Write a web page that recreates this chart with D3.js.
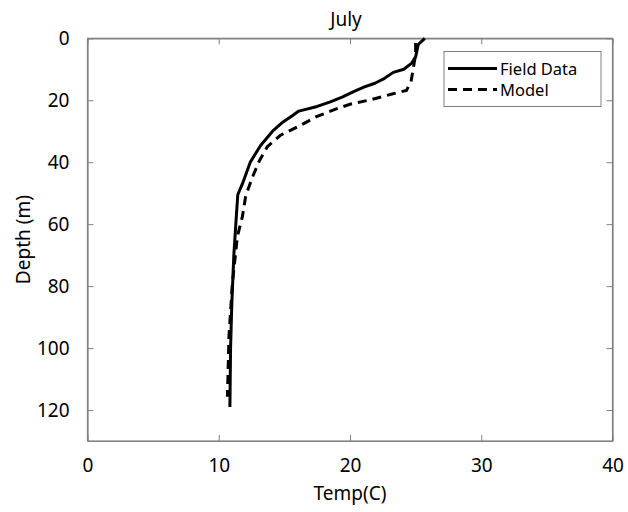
<!DOCTYPE html>
<html><head><meta charset="utf-8">
<script src="https://cdn.jsdelivr.net/npm/d3@7"></script>
<style>body{margin:0;background:#fff;} text{font-family:"Noto Sans","Open Sans",sans-serif;}</style>
</head><body>
<svg id="c" width="628" height="512"></svg>
<script>
const fieldDepth = [0, 2, 4, 6, 8, 10, 11, 13, 14.5, 15.7, 17, 19, 20.5, 22, 23.5, 25, 27, 30, 34.5, 40, 47, 50.5, 60, 70, 85, 100, 119];
const fieldTemp  = [25.7, 25.2, 25.1, 25.0, 24.7, 24.1, 23.3, 22.6, 21.9, 21.1, 20.4, 19.4, 18.5, 17.5, 16.1, 15.6, 14.9, 14.1, 13.2, 12.4, 11.8, 11.45, 11.3, 11.15, 11.0, 10.9, 10.85];
const modelDepth = [1.5, 5, 9, 14, 16.8, 18, 19.8, 21.3, 23, 25.4, 28.6, 31.3, 35, 39.5, 45, 51, 57.6, 64, 79, 96, 115.7];
const modelTemp  = [25.0, 25.0, 24.85, 24.65, 24.3, 23.2, 21.6, 20.0, 18.8, 17.4, 16.0, 14.7, 13.7, 13.1, 12.55, 12.05, 11.8, 11.42, 11.04, 10.78, 10.66];
const xTicks = [0, 10, 20, 30, 40];
const yTicks = [0, 20, 40, 60, 80, 100, 120];
const seriesNames = ["Field Data", "Model"];

const svg = d3.select("#c");
const L = 87.5, R = 612.5, T = 38.3, B = 441;
const x = d3.scaleLinear().domain([0, 40]).range([L, R]);
const y = d3.scaleLinear().domain([0, 130]).range([T, B]);
const axisColor = "#808080";
const fs = 19;

// box
svg.append("rect").attr("x", L).attr("y", T).attr("width", R - L).attr("height", B - T)
  .attr("fill", "none").attr("stroke", axisColor).attr("stroke-width", 1.2);

// axes with inward ticks
const gb = svg.append("g").attr("transform", `translate(0,${B})`)
  .call(d3.axisBottom(x).tickValues(xTicks).tickSizeInner(-6).tickSizeOuter(0).tickPadding(18));
const gt = svg.append("g").attr("transform", `translate(0,${T})`)
  .call(d3.axisTop(x).tickValues(xTicks).tickSizeInner(-6).tickSizeOuter(0).tickFormat(""));
const gl = svg.append("g").attr("transform", `translate(${L},0)`)
  .call(d3.axisLeft(y).tickValues(yTicks).tickSizeInner(-6).tickSizeOuter(0).tickPadding(18));
const gr = svg.append("g").attr("transform", `translate(${R},0)`)
  .call(d3.axisRight(y).tickValues(yTicks).tickSizeInner(-6).tickSizeOuter(0).tickFormat(""));
[gb, gt, gl, gr].forEach(g => {
  g.select(".domain").attr("stroke", axisColor).attr("stroke-width", 1.2);
  g.selectAll(".tick line").attr("stroke", axisColor).attr("stroke-width", 1);
  g.selectAll(".tick text").attr("fill", "#000").style("font-size", fs + "px")
    .style("font-family", '"Noto Sans","Open Sans",sans-serif');
});
gb.selectAll(".tick text").attr("dy", "0.71em");

// lines
const line = d3.line().x(d => x(d[0])).y(d => y(d[1]));
const fieldPts = fieldDepth.map((d, i) => [fieldTemp[i], d]);
const modelPts = modelDepth.map((d, i) => [modelTemp[i], d]);
svg.append("path").datum(modelPts).attr("d", line).attr("fill", "none")
  .attr("stroke", "#000").attr("stroke-width", 3).attr("stroke-dasharray", "9,6");
svg.append("path").datum(fieldPts).attr("d", line).attr("fill", "none")
  .attr("stroke", "#000").attr("stroke-width", 3).attr("stroke-linejoin", "round");

// title & labels
svg.append("text").attr("x", 346).attr("y", 26).attr("text-anchor", "middle")
  .style("font-size", fs + "px").text("July");
svg.append("text").attr("x", (L + R) / 2).attr("y", 500).attr("text-anchor", "middle")
  .style("font-size", fs + "px").text("Temp(C)");
svg.append("text").attr("transform", `translate(30,${(T + B) / 2}) rotate(-90)`)
  .attr("text-anchor", "middle").style("font-size", fs + "px").text("Depth (m)");

// legend
const lg = svg.append("g");
lg.append("rect").attr("x", 444).attr("y", 51.5).attr("width", 157).attr("height", 55)
  .attr("fill", "#fff").attr("stroke", axisColor).attr("stroke-width", 1);
const dashes = [null, "9,6"];
seriesNames.forEach((n, i) => {
  const yy = 68.5 + i * 21;
  lg.append("line").attr("x1", 448).attr("x2", 497).attr("y1", yy).attr("y2", yy)
    .attr("stroke", "#000").attr("stroke-width", 3).attr("stroke-dasharray", dashes[i]);
  lg.append("text").attr("x", 500).attr("y", yy + 6).style("font-size", "16.5px").text(n);
});
</script>
</body></html>
